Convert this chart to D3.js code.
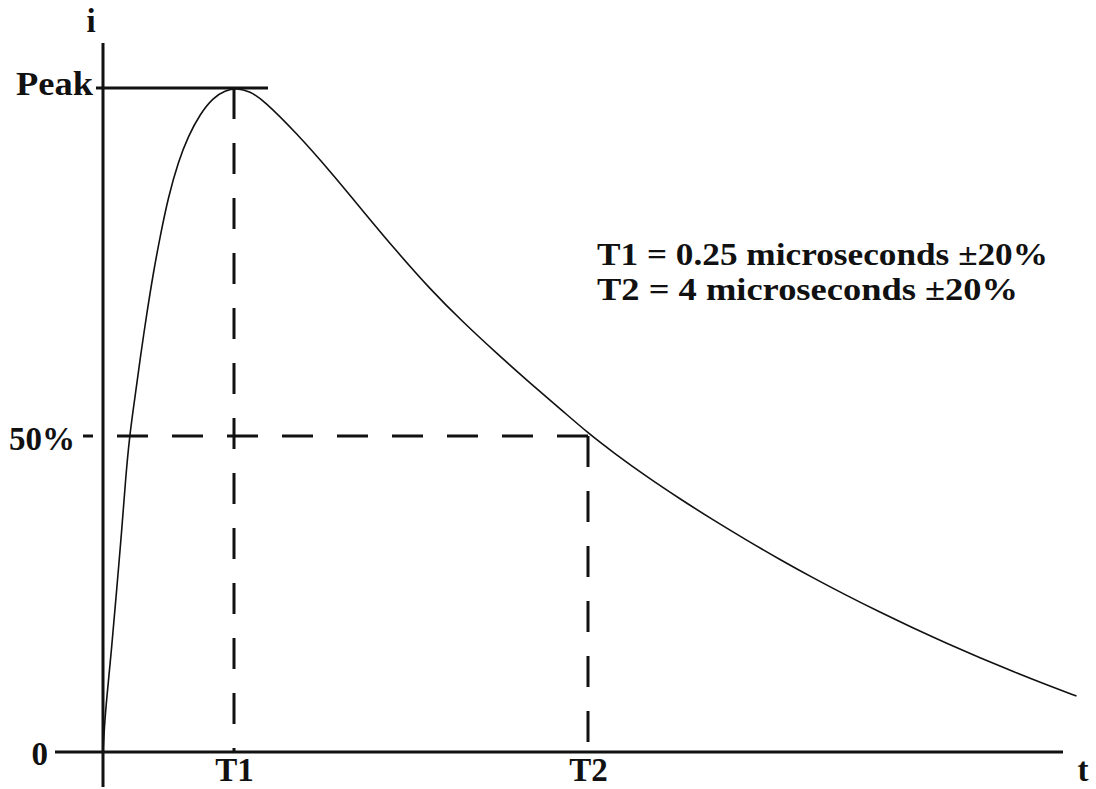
<!DOCTYPE html>
<html>
<head>
<meta charset="utf-8">
<script src="https://cdn.jsdelivr.net/npm/d3@7"></script>
<style>
  html, body { margin: 0; padding: 0; background: #fff; }
  svg { display: block; }
  text { font-family: "Liberation Serif", "Times New Roman", serif; font-weight: bold; fill: #111; }
</style>
</head>
<body>
<svg id="chart" width="1096" height="789"></svg>
<script>
// Surge current waveform: time in microseconds, current in percent of peak
const timeUs = [
  0, 0.0029, 0.0067, 0.0162, 0.0244, 0.0359, 0.0429, 0.0506, 0.0611, 0.0706,
  0.084, 0.096, 0.1088, 0.1246, 0.1437, 0.1628, 0.1851, 0.2105, 0.2328, 0.2818,
  0.4195, 0.5604, 0.9142, 1.267, 1.6197, 1.9735, 2.3263, 2.679, 3.0328, 3.3856,
  3.7383, 4.0, 4.268, 4.622, 4.975, 5.327, 5.681, 6.034, 6.387, 6.74,
  7.093, 7.446, 7.8, 8.153, 8.505, 8.859, 9.175
];
const currentPct = [
  0, 4.27, 8.23, 16.14, 24.05, 35.13, 43.04, 50, 55.6, 60.99,
  67.82, 73.42, 78.59, 84.34, 89.44, 93.1, 96.26, 98.63, 99.64, 100,
  99.5, 98.28, 93.49, 88.07, 82.26, 76.51, 71.12, 66.31, 61.88, 57.61,
  53.52, 50.43, 47.39, 43.56, 40.05, 36.69, 33.5, 30.44, 27.53, 24.76,
  22.12, 19.6, 17.2, 14.91, 12.72, 10.63, 8.86
];

// Time markers on the t axis
const markerTimes = [0.25, 4];
const markerLabels = ["T1", "T2"];

// Current levels on the i axis
const levelValues = [0, 50, 100];
const levelLabels = ["0", "50%", "Peak"];

// Tolerance notes
const notes = ["T1 = 0.25 microseconds \u00B120%", "T2 = 4 microseconds \u00B120%"];

const svg = d3.select("#chart");
const ink = "#111";
const serif = '"Liberation Serif", "Times New Roman", serif';

// Schematic (piecewise) scales: markers and levels sit at their drawn places
const x = d3.scaleLinear().domain([0, markerTimes[0], markerTimes[1]]).range([103, 234, 588]);
const y = d3.scaleLinear().domain([0, levelValues[1], levelValues[2]]).range([752, 436, 88]);

const x0 = x(0), y0 = y(0);
const dash = "31,24";

// Dashed guide at 50% from the i axis to T2
svg.append("line")
  .attr("x1", x0).attr("x2", x(markerTimes[1]))
  .attr("y1", y(levelValues[1])).attr("y2", y(levelValues[1]))
  .attr("stroke", ink).attr("stroke-width", 3)
  .attr("stroke-dasharray", dash).attr("stroke-dashoffset", 41);

// Dashed drop lines at T1 (from peak) and T2 (from 50%)
svg.append("line")
  .attr("x1", x(markerTimes[0])).attr("x2", x(markerTimes[0]))
  .attr("y1", y(levelValues[2])).attr("y2", y0)
  .attr("stroke", ink).attr("stroke-width", 3)
  .attr("stroke-dasharray", dash);
svg.append("line")
  .attr("x1", x(markerTimes[1])).attr("x2", x(markerTimes[1]))
  .attr("y1", y(levelValues[1])).attr("y2", y0)
  .attr("stroke", ink).attr("stroke-width", 3)
  .attr("stroke-dasharray", dash);

// Waveform
const pts = timeUs.map((t, i) => [t, currentPct[i]]);
svg.append("path")
  .datum(pts)
  .attr("fill", "none")
  .attr("stroke", ink)
  .attr("stroke-width", 1.6)
  .attr("d", d3.line().x(d => x(d[0])).y(d => y(d[1])).curve(d3.curveBasis));

// Axis lines
svg.append("line")
  .attr("x1", x0).attr("x2", x0).attr("y1", 43).attr("y2", 787)
  .attr("stroke", ink).attr("stroke-width", 3);
svg.append("line")
  .attr("x1", x0 - 48).attr("x2", 1063).attr("y1", y0).attr("y2", y0)
  .attr("stroke", ink).attr("stroke-width", 3);

// Peak level line
svg.append("line")
  .attr("x1", x0 - 7).attr("x2", x(markerTimes[0]) + 34)
  .attr("y1", y(levelValues[2])).attr("y2", y(levelValues[2]))
  .attr("stroke", ink).attr("stroke-width", 3);

// Short tick at 50%
svg.append("line")
  .attr("x1", x0 - 20).attr("x2", x0 - 10)
  .attr("y1", y(levelValues[1])).attr("y2", y(levelValues[1]))
  .attr("stroke", ink).attr("stroke-width", 3);

// Time marker labels via a bottom axis
const xAxis = d3.axisBottom(x)
  .tickValues(markerTimes)
  .tickFormat((d, i) => markerLabels[i])
  .tickSize(0);
const gx = svg.append("g").attr("transform", `translate(0,${y0})`).call(xAxis);
gx.attr("font-family", null).attr("font-size", null);
gx.select(".domain").remove();
gx.selectAll("text")
  .attr("y", 29).attr("dy", 0)
  .attr("font-size", 33)
  .style("font-family", serif)
  .style("font-weight", "bold")
  .attr("fill", ink);

// Level labels, right-aligned left of their lines
const levelLabelEnd = [48, 75, 93];
const levelLabelDy = [13, 14, 7];
const levelLabelWidth = [null, null, 77];
svg.append("g").selectAll("text")
  .data(levelValues)
  .join("text")
  .attr("x", (d, i) => levelLabelEnd[i])
  .attr("y", (d, i) => y(d) + levelLabelDy[i])
  .attr("text-anchor", "end")
  .attr("font-size", 33)
  .attr("textLength", (d, i) => levelLabelWidth[i])
  .attr("lengthAdjust", "spacingAndGlyphs")
  .text((d, i) => levelLabels[i]);

// Axis names
svg.append("text").attr("x", 91).attr("y", 32).attr("text-anchor", "middle")
  .attr("font-size", 33).text("i");
svg.append("text").attr("x", 1083).attr("y", 781).attr("text-anchor", "middle")
  .attr("font-size", 33).text("t");

// Notes: one line per tolerance
const noteWidths = [451, 421];
svg.append("g").selectAll("text")
  .data(notes)
  .join("text")
  .attr("x", 597)
  .attr("y", (d, i) => 265 + i * 34.5)
  .attr("font-size", 31)
  .attr("textLength", (d, i) => noteWidths[i])
  .attr("lengthAdjust", "spacingAndGlyphs")
  .text(d => d);
</script>
</body>
</html>
